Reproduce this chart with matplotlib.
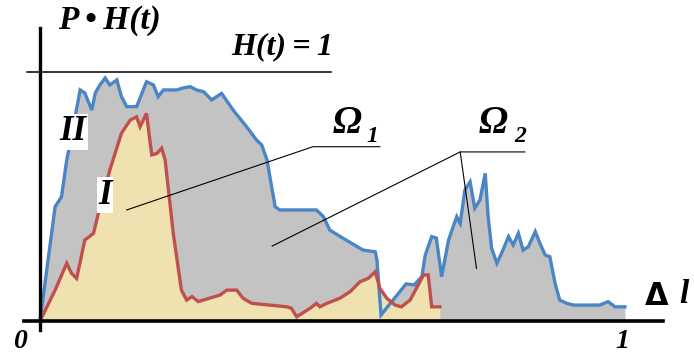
import matplotlib.pyplot as plt
import numpy as np

# curve II (blue) - P*H(t) for the second sample
x2 = [0.0, 0.026, 0.037, 0.046, 0.054, 0.069, 0.077, 0.089, 0.095, 0.103, 0.112,
      0.120, 0.132, 0.140, 0.149, 0.166, 0.172, 0.183, 0.195, 0.203, 0.212,
      0.235, 0.246, 0.258, 0.269, 0.281, 0.295, 0.312, 0.332, 0.355, 0.372,
      0.381, 0.390, 0.404, 0.412, 0.475, 0.487, 0.498, 0.521, 0.555, 0.576,
      0.579, 0.586, 0.601, 0.619, 0.629, 0.643, 0.656, 0.662, 0.673, 0.681,
      0.690, 0.702, 0.710, 0.716, 0.722, 0.730, 0.739, 0.747, 0.756, 0.765,
      0.770, 0.776, 0.785, 0.793, 0.805, 0.813, 0.822, 0.830, 0.839, 0.851,
      0.859, 0.868, 0.876, 0.885, 0.893, 0.905, 0.916, 0.962, 0.976, 0.988, 1.005]
y2 = [0.0, 0.459, 0.499, 0.647, 0.740, 0.928, 0.916, 0.847, 0.916, 0.948, 0.976,
      0.948, 0.968, 0.901, 0.861, 0.861, 0.896, 0.961, 0.948, 0.901, 0.928,
      0.928, 0.936, 0.941, 0.928, 0.921, 0.888, 0.914, 0.847, 0.780, 0.727,
      0.707, 0.647, 0.459, 0.446, 0.446, 0.419, 0.365, 0.332, 0.285, 0.278,
      0.245, 0.024, 0.068, 0.120, 0.149, 0.145, 0.178, 0.265, 0.339, 0.333,
      0.178, 0.325, 0.379, 0.419, 0.392, 0.526, 0.559, 0.453, 0.486, 0.593,
      0.419, 0.292, 0.232, 0.272, 0.339, 0.305, 0.352, 0.285, 0.298, 0.359,
      0.312, 0.265, 0.258, 0.151, 0.084, 0.071, 0.064, 0.064, 0.078, 0.057, 0.057]

# curve I (red)
x1 = [0.0, 0.026, 0.046, 0.054, 0.063, 0.077, 0.092, 0.103, 0.120, 0.140, 0.155,
      0.166, 0.172, 0.183, 0.192, 0.201, 0.209, 0.215, 0.229, 0.243, 0.252,
      0.261, 0.272, 0.309, 0.321, 0.338, 0.349, 0.364, 0.424, 0.432, 0.441,
      0.464, 0.475, 0.481, 0.493, 0.515, 0.533, 0.550, 0.564, 0.576, 0.584,
      0.596, 0.610, 0.621, 0.636, 0.659, 0.667, 0.673, 0.687]
y1 = [0.0, 0.124, 0.232, 0.192, 0.171, 0.325, 0.352, 0.459, 0.606, 0.754, 0.807,
      0.820, 0.780, 0.834, 0.667, 0.673, 0.694, 0.647, 0.352, 0.124, 0.084,
      0.098, 0.078, 0.104, 0.124, 0.124, 0.091, 0.071, 0.057, 0.051, 0.017,
      0.051, 0.071, 0.057, 0.071, 0.091, 0.118, 0.158, 0.171, 0.198, 0.131,
      0.091, 0.064, 0.057, 0.084, 0.185, 0.185, 0.057, 0.057]

blue = '#4a85c6'
red = '#c0504d'
font = ['Liberation Serif', 'DejaVu Serif']

fig = plt.figure(figsize=(6.94, 3.58), dpi=100)
ax = fig.add_axes([0, 0, 1, 1])
ax.set_xlim(-0.0687, 1.1237)
ax.set_ylim(-0.1486, 1.2892)
ax.axis('off')

ax.fill_between(x2, y2, 0, color='#c3c3c3', lw=0)
ax.fill_between(x1, y1, 0, color='#f0e2b0', lw=0)
ax.plot(x2, y2, color=blue, lw=2.4, solid_joinstyle='miter')
ax.plot(x1, y1, color=red, lw=2.4, solid_joinstyle='miter')

# axes
ax.plot([0, 0], [-0.036, 1.177], color='black', lw=2.4)
ax.plot([-0.027, 1.070], [0, 0], color='black', lw=2.6)
ax.plot([-0.022, 0.50], [1.0, 1.0], color='black', lw=1.1)

tkw = dict(family=font, weight='bold', style='italic', ha='center', va='center')
ax.text(0.120, 1.205, 'P\u2009\u2022\u2009H(t)', fontsize=24, **tkw)
ax.text(0.416, 1.100, 'H(t)\u2009=\u20091', fontsize=23, **tkw)
ax.text(0.057, 0.760, 'II', fontsize=25, bbox=dict(fc='white', ec='none', pad=1), **tkw)
ax.text(0.112, 0.506, 'I', fontsize=25, bbox=dict(fc='white', ec='none', pad=1), **tkw)
ax.text(-0.034, -0.084, '0', fontsize=20, **tkw)
ax.text(1.0, -0.084, '1', fontsize=20, **tkw)
ax.text(1.060, 0.098, '\u0394', fontsize=22, family='DejaVu Sans', weight='bold',
        ha='center', va='center')
ax.text(1.106, 0.105, 'l', fontsize=24, **tkw)

# Omega 1 label with leader
ax.text(0.527, 0.795, '\u03a9', fontsize=28, **tkw)
ax.text(0.571, 0.740, '1', fontsize=17, **tkw)
ax.plot([0.149, 0.469, 0.584], [0.446, 0.700, 0.700], color='black', lw=0.8)
# Omega 2 label with two leaders
ax.text(0.778, 0.795, '\u03a9', fontsize=28, **tkw)
ax.text(0.826, 0.740, '2', fontsize=17, **tkw)
ax.plot([0.399, 0.722, 0.833], [0.301, 0.679, 0.679], color='black', lw=0.8)
ax.plot([0.722, 0.750], [0.679, 0.211], color='black', lw=0.8)

fig.savefig('out.png', dpi=100)
